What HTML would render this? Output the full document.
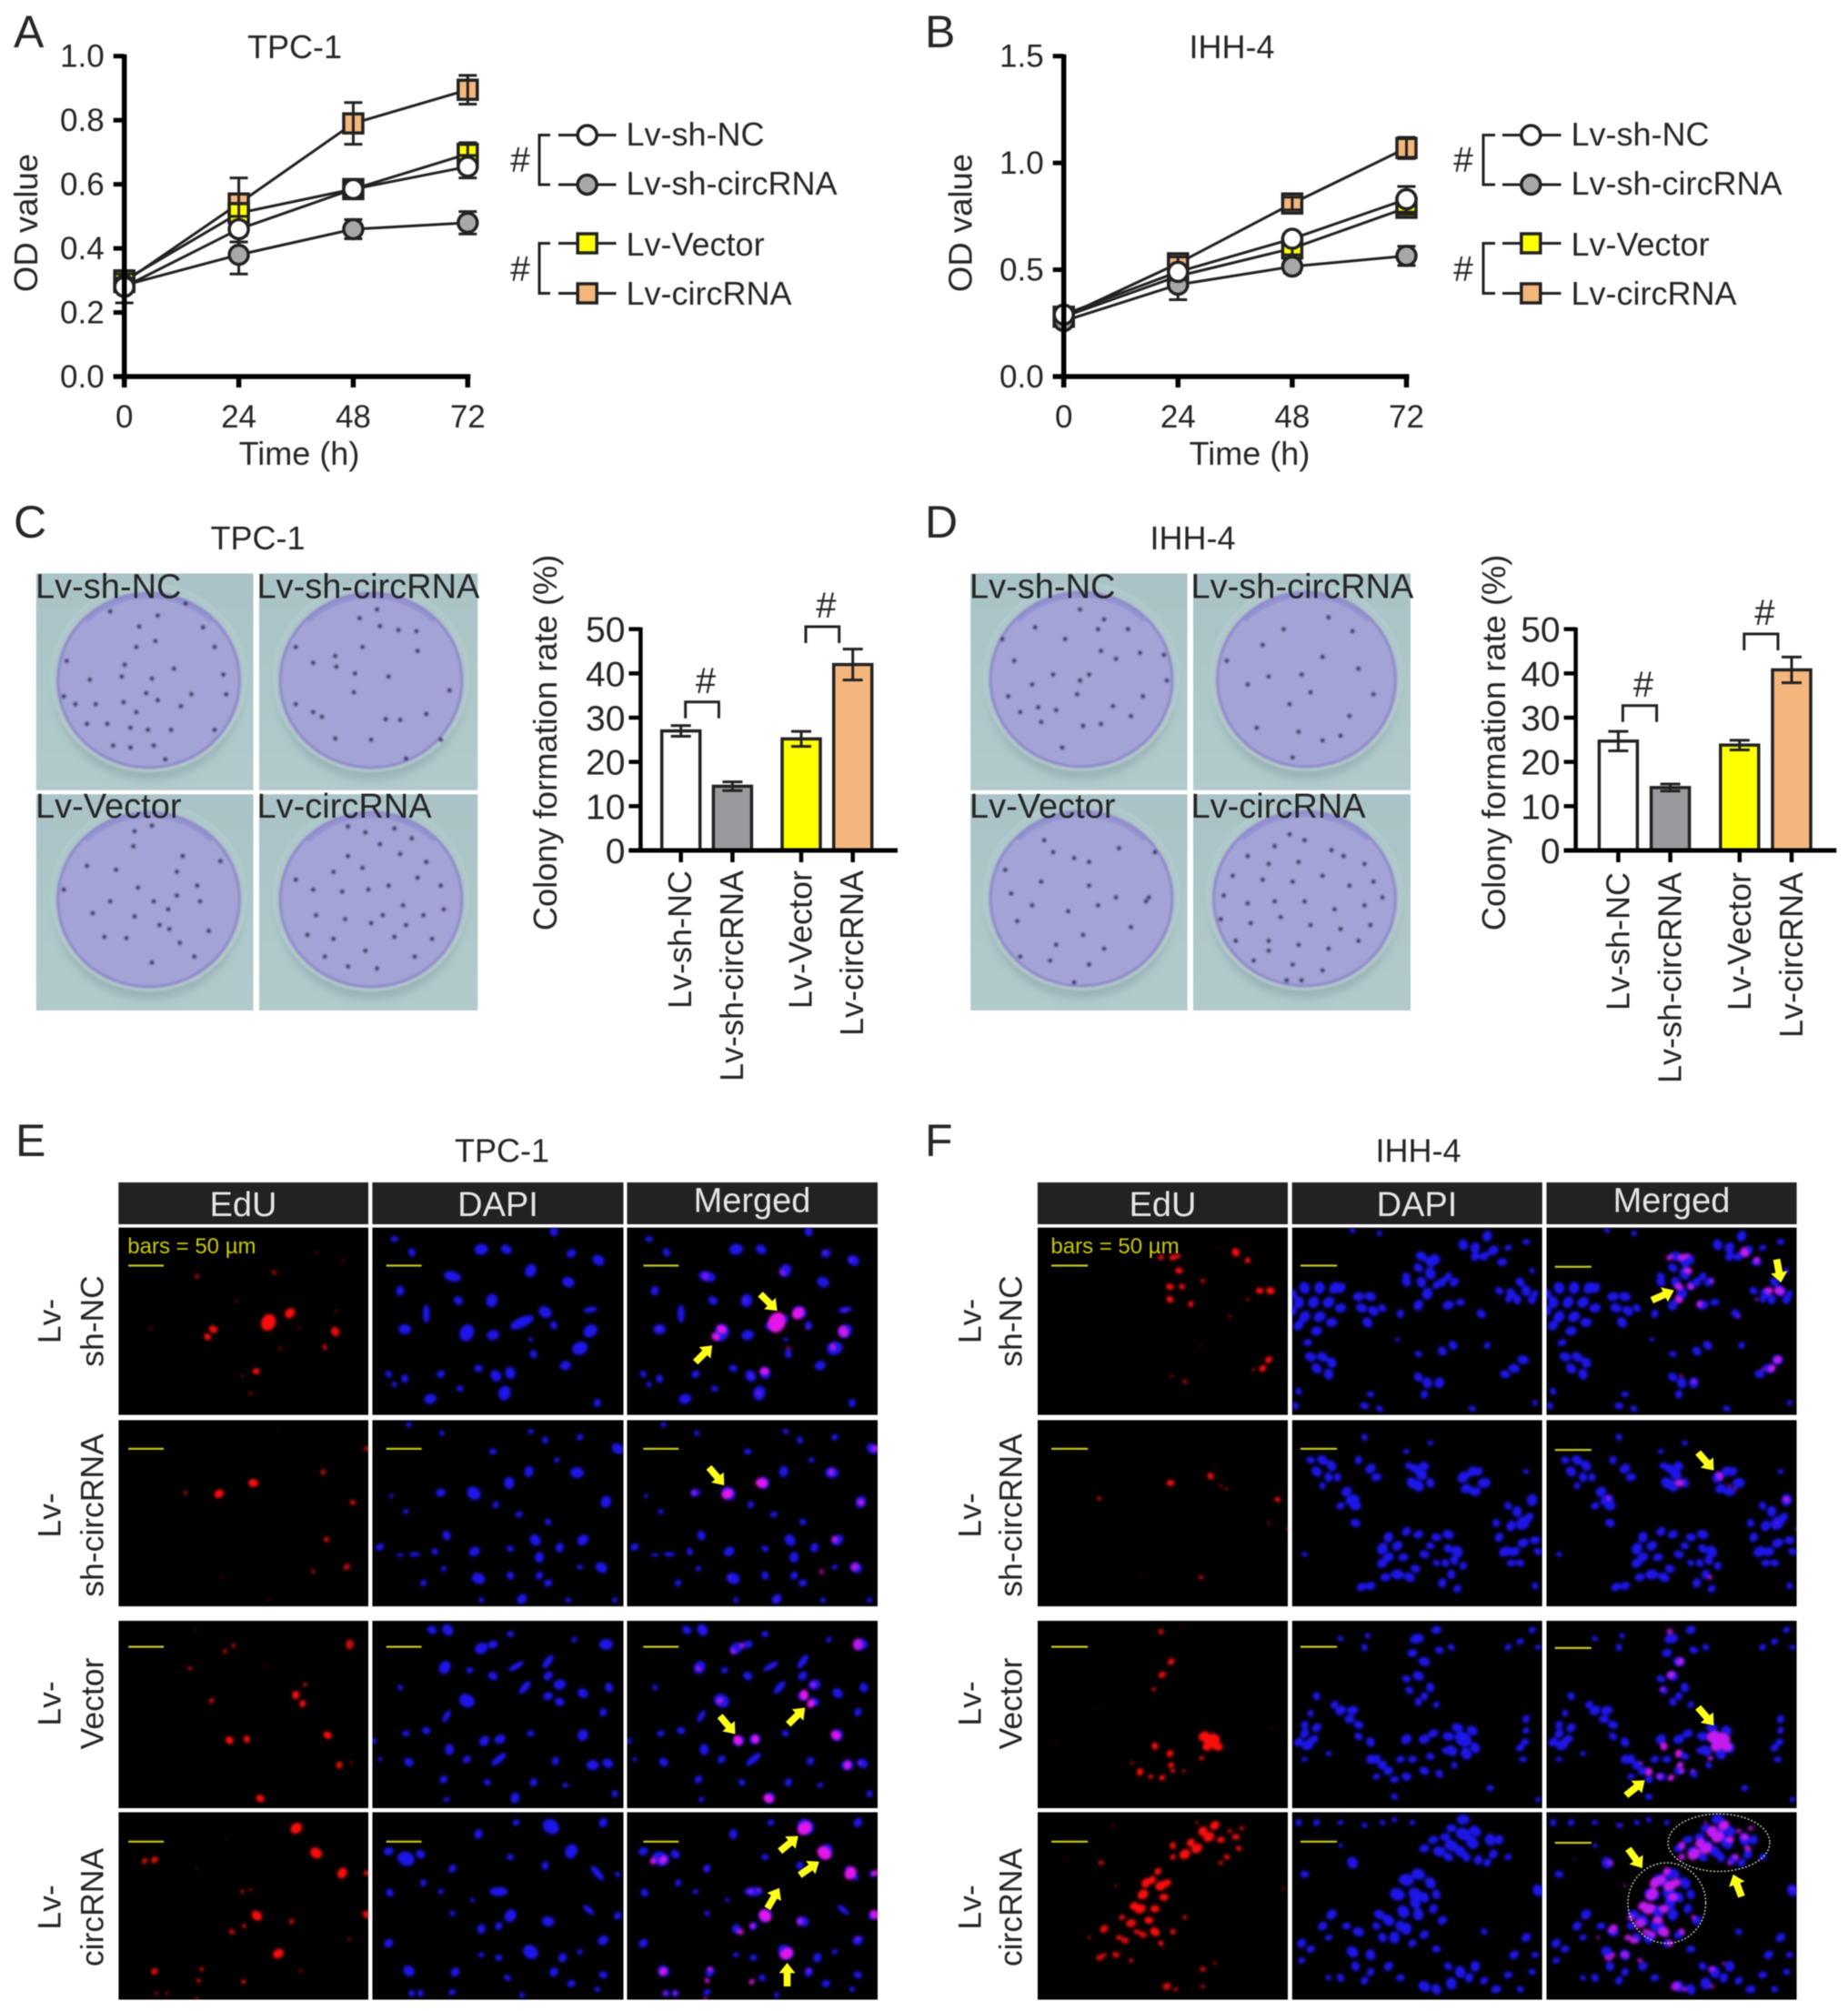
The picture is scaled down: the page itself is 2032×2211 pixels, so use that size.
<!DOCTYPE html>
<html lang="en">
<head>
<meta charset="utf-8">
<title>TPC-1 and IHH-4 proliferation figure</title>
<style>
html,body{margin:0;padding:0;background:#fff;}
svg#figure{display:block;filter:blur(0.6px);}
svg#figure text{font-family:"Liberation Sans",sans-serif;fill:#262626;}
.leg{font-size:36px;}
.tt{font-size:36px;}
.pl{font-size:50px;}
.ax{font-size:36px;}
.cb{font-size:38px;fill:#1d2a2c;}
.hd{font-size:38px;fill:#e6e6e6 !important;text-anchor:middle;}
.rl{font-size:35.5px;text-anchor:middle;}
.sb{font-size:24px;fill:#c9c900 !important;}
.ln{stroke:#222;stroke-width:3;fill:none;}
</style>
</head>
<body>
<svg id="figure" xmlns="http://www.w3.org/2000/svg" width="2032" height="2211" viewBox="0 0 2032 2211">
<defs>
<filter id="soft" x="-5%" y="-5%" width="110%" height="110%"><feGaussianBlur stdDeviation="2.6"/></filter>
<filter id="softer" x="-10%" y="-10%" width="120%" height="120%"><feGaussianBlur stdDeviation="1"/></filter>
<filter id="softest" x="-20%" y="-20%" width="140%" height="140%"><feGaussianBlur stdDeviation="4"/></filter>
<linearGradient id="plateBg" x1="0" y1="0" x2="0" y2="1"><stop offset="0" stop-color="#a9c3c6"/><stop offset="1" stop-color="#b2cacb"/></linearGradient>
</defs>
<rect width="2032" height="2211" fill="#fff"/>

<text class="pl" x="15" y="52">A</text>
<text class="pl" x="1017" y="52">B</text>
<text class="pl" x="15" y="591">C</text>
<text class="pl" x="1017" y="591">D</text>
<text class="pl" x="17" y="1271">E</text>
<text class="pl" x="1017" y="1271">F</text>

<text class="tt" x="324" y="64" text-anchor="middle">TPC-1</text>
<text class="tt" x="1354.500" y="64" text-anchor="middle">IHH-4</text>
<text class="tt" x="283.500" y="604" text-anchor="middle">TPC-1</text>
<text class="tt" x="1311.500" y="604" text-anchor="middle">IHH-4</text>
<text class="tt" x="552" y="1277.500" text-anchor="middle">TPC-1</text>
<text class="tt" x="1559.500" y="1277.500" text-anchor="middle">IHH-4</text>

<!-- Axis titles -->
<text class="ax" transform="translate(41 245) rotate(-90)" text-anchor="middle" style="font-size:36.5px">OD value</text>
<text class="ax" transform="translate(1068.500 245) rotate(-90)" text-anchor="middle" style="font-size:36.5px">OD value</text>
<text class="ax" x="329" y="511" text-anchor="middle">Time (h)</text>
<text class="ax" x="1374" y="511" text-anchor="middle">Time (h)</text>
<text class="ax" transform="translate(612 816.500) rotate(-90)" text-anchor="middle" style="font-size:36.3px">Colony formation rate (%)</text>
<text class="ax" transform="translate(1655 816.500) rotate(-90)" text-anchor="middle" style="font-size:36.3px">Colony formation rate (%)</text>

<!-- Legend A -->
<g>
<path class="ln" d="M605 148.500H593V203H605M605 267.500H593V322.500H605"/>
<text class="ax" x="572" y="189" text-anchor="middle" style="font-size:39px">#</text>
<text class="ax" x="572" y="309" text-anchor="middle" style="font-size:39px">#</text>
<path class="ln" d="M614 148.500H677.500M614 203H677.500M614 267.500H677.500M614 322.500H677.500"/>
<circle cx="645.700" cy="148.500" r="10.500" fill="#fff" stroke="#222" stroke-width="3.500"/>
<circle cx="645.700" cy="203" r="10.500" fill="#a8a8a8" stroke="#222" stroke-width="3.500"/>
<rect x="635.200" y="257" width="21" height="21" fill="#ffff00" stroke="#222" stroke-width="3.500"/>
<rect x="635.200" y="312" width="21" height="21" fill="#f4b67c" stroke="#222" stroke-width="3.500"/>
<text class="leg" x="688.500" y="160">Lv-sh-NC</text>
<text class="leg" x="688.500" y="214">Lv-sh-circRNA</text>
<text class="leg" x="688.500" y="281">Lv-Vector</text>
<text class="leg" x="688.500" y="335">Lv-circRNA</text>
</g>

<!-- Legend B -->
<g>
<path class="ln" d="M1644 148.500H1631V203H1644M1644 267.500H1631V322.500H1644"/>
<text class="ax" x="1609" y="189" text-anchor="middle" style="font-size:39px">#</text>
<text class="ax" x="1609" y="309" text-anchor="middle" style="font-size:39px">#</text>
<path class="ln" d="M1652 148.500H1716.500M1652 203H1716.500M1652 267.500H1716.500M1652 322.500H1716.500"/>
<circle cx="1683.300" cy="148.500" r="10.500" fill="#fff" stroke="#222" stroke-width="3.500"/>
<circle cx="1683.300" cy="203" r="10.500" fill="#a8a8a8" stroke="#222" stroke-width="3.500"/>
<rect x="1672.800" y="257" width="21" height="21" fill="#ffff00" stroke="#222" stroke-width="3.500"/>
<rect x="1672.800" y="312" width="21" height="21" fill="#f4b67c" stroke="#222" stroke-width="3.500"/>
<text class="leg" x="1727.500" y="160">Lv-sh-NC</text>
<text class="leg" x="1727.500" y="214">Lv-sh-circRNA</text>
<text class="leg" x="1727.500" y="281">Lv-Vector</text>
<text class="leg" x="1727.500" y="335">Lv-circRNA</text>
</g>

<g id="layer-charts"></g>
<g id="layer-plates"></g>

<!-- Colony plate labels -->
<text class="cb" x="39" y="657.500">Lv-sh-NC</text>
<text class="cb" x="282.500" y="657.500">Lv-sh-circRNA</text>
<text class="cb" x="39" y="899">Lv-Vector</text>
<text class="cb" x="282.500" y="899">Lv-circRNA</text>
<text class="cb" x="1066" y="657.500">Lv-sh-NC</text>
<text class="cb" x="1309.500" y="657.500">Lv-sh-circRNA</text>
<text class="cb" x="1066" y="899">Lv-Vector</text>
<text class="cb" x="1309.500" y="899">Lv-circRNA</text>

<!-- Headers -->
<g>
<rect x="130.300" y="1300" width="274.700" height="46" fill="#222"/>
<rect x="409.400" y="1300" width="276.100" height="46" fill="#222"/>
<rect x="689.500" y="1300" width="275.500" height="46" fill="#222"/>
<text class="hd" x="267.500" y="1337">EdU</text>
<text class="hd" x="547.500" y="1337">DAPI</text>
<text class="hd" x="827" y="1332.500">Merged</text>
</g>
<g>
<rect x="1140.900" y="1300" width="275.100" height="46" fill="#222"/>
<rect x="1420.700" y="1300" width="275.100" height="46" fill="#222"/>
<rect x="1700.500" y="1300" width="275.100" height="46" fill="#222"/>
<text class="hd" x="1278.500" y="1337">EdU</text>
<text class="hd" x="1558" y="1337">DAPI</text>
<text class="hd" x="1838" y="1332.500">Merged</text>
</g>

<g id="layer-micro"></g>

<text class="sb" x="140.300" y="1378">bars = 50 µm</text>
<text class="sb" x="1155.400" y="1378">bars = 50 µm</text>

<!-- Row labels E -->
<text class="rl" transform="translate(66.500 1452.500) rotate(-90)">Lv-</text>
<text class="rl" transform="translate(113.500 1452.500) rotate(-90)">sh-NC</text>
<text class="rl" transform="translate(66.500 1666) rotate(-90)">Lv-</text>
<text class="rl" transform="translate(113.500 1666) rotate(-90)">sh-circRNA</text>
<text class="rl" transform="translate(66.500 1873) rotate(-90)">Lv-</text>
<text class="rl" transform="translate(113.500 1873) rotate(-90)">Vector</text>
<text class="rl" transform="translate(66.500 2097) rotate(-90)">Lv-</text>
<text class="rl" transform="translate(113.500 2097) rotate(-90)">circRNA</text>
<!-- Row labels F -->
<text class="rl" transform="translate(1078.500 1452.500) rotate(-90)">Lv-</text>
<text class="rl" transform="translate(1123.500 1452.500) rotate(-90)">sh-NC</text>
<text class="rl" transform="translate(1078.500 1666) rotate(-90)">Lv-</text>
<text class="rl" transform="translate(1123.500 1666) rotate(-90)">sh-circRNA</text>
<text class="rl" transform="translate(1078.500 1873) rotate(-90)">Lv-</text>
<text class="rl" transform="translate(1123.500 1873) rotate(-90)">Vector</text>
<text class="rl" transform="translate(1078.500 2097) rotate(-90)">Lv-</text>
<text class="rl" transform="translate(1123.500 2097) rotate(-90)">circRNA</text>
</svg>

<script>
// ---------- Chart data ----------
const timePoints = [0, 24, 48, 72];
const timeTickLabels = ['0', '24', '48', '72'];
const odTicksA = [0, 0.2, 0.4, 0.6, 0.8, 1.0];
const odTickLabelsA = ['0.0', '0.2', '0.4', '0.6', '0.8', '1.0'];
const odTicksB = [0, 0.5, 1.0, 1.5];
const odTickLabelsB = ['0.0', '0.5', '1.0', '1.5'];

const aShNC = [0.28, 0.46, 0.585, 0.655];
const aShNCErr = [0.05, 0.04, 0.025, 0.035];
const aShCirc = [0.285, 0.38, 0.46, 0.48];
const aShCircErr = [0.02, 0.06, 0.03, 0.035];
const aVector = [0.30, 0.51, 0.585, 0.695];
const aVectorErr = [0.02, 0.03, 0.02, 0.035];
const aCirc = [0.295, 0.54, 0.79, 0.895];
const aCircErr = [0.02, 0.08, 0.065, 0.045];

const bShNC = [0.29, 0.49, 0.645, 0.83];
const bShNCErr = [0.03, 0.03, 0.02, 0.06];
const bShCirc = [0.26, 0.43, 0.515, 0.565];
const bShCircErr = [0.02, 0.07, 0.03, 0.045];
const bVector = [0.28, 0.47, 0.60, 0.79];
const bVectorErr = [0.02, 0.02, 0.03, 0.03];
const bCirc = [0.28, 0.53, 0.81, 1.07];
const bCircErr = [0.02, 0.03, 0.03, 0.05];

const barCategories = ['Lv-sh-NC', 'Lv-sh-circRNA', 'Lv-Vector', 'Lv-circRNA'];
const barFills = ['#ffffff', '#9a9a9e', '#ffff00', '#f4b67c'];
const rateTicks = [0, 10, 20, 30, 40, 50];
const rateTickLabels = ['0', '10', '20', '30', '40', '50'];
const cRates = [27, 14.5, 25.2, 42];
const cRateErr = [1.2, 1.0, 1.7, 3.5];
const dRates = [24.7, 14.2, 23.8, 40.8];
const dRateErr = [2.2, 0.8, 1.1, 2.9];

// ---------- Colony dots (measured in reference crop units) ----------
const dotsC1 = [[240,343],[320,285],[272,315],[190,305],[235,395],[268,380],[350,345],[370,395],[115,430],[215,440],[155,478],[210,470],[262,475],[300,450],[385,465],[390,515],[252,512],[330,515],[213,535],[272,530],[312,545],[370,605],[295,605],[255,605],[225,600],[185,590],[150,590],[110,520],[235,560],[225,650],[265,645],[195,645],[285,680],[130,540],[165,540]];
const dotsC2 = [[620,322],[655,342],[687,352],[718,355],[625,395],[720,405],[578,418],[510,395],[540,435],[612,462],[670,470],[775,505],[580,445],[555,572],[665,578],[690,580],[735,565],[578,627],[640,630],[700,678],[760,630],[650,300],[540,560],[610,510],[510,540]];
const dotsC3 = [[232,862],[262,848],[230,900],[305,965],[315,925],[380,938],[238,1005],[265,1040],[305,1025],[345,1040],[110,1010],[160,1070],[232,1078],[292,1110],[218,1133],[262,1195],[310,1145],[360,1115],[180,1130],[150,950],[200,960],[340,1000],[275,1100],[190,1040],[335,1180],[290,1060]];
const dotsC4 = [[600,850],[630,865],[680,855],[710,880],[655,895],[600,925],[575,965],[625,955],[690,920],[735,940],[540,1010],[590,1015],[635,1010],[670,1000],[720,980],[760,1000],[510,985],[545,1075],[595,1085],[640,1095],[695,1050],[730,1075],[765,1060],[530,1125],[575,1135],[630,1165],[680,1130],[715,1180],[745,1135],[600,1205],[650,1210],[560,1180],[700,1100],[660,1075]];
const dotsD1 = [[285,300],[325,325],[210,345],[155,375],[315,350],[365,350],[175,430],[260,375],[320,405],[385,410],[425,415],[285,480],[240,465],[205,490],[345,425],[300,465],[165,520],[215,548],[245,555],[340,545],[370,570],[290,595],[255,650],[220,585],[280,515],[430,480],[185,560],[320,590],[390,520]];
const dotsD2 = [[655,465],[775,515],[700,320],[625,350],[740,355],[530,430],[690,420],[600,470],[565,490],[635,540],[650,610],[690,632],[640,675],[580,600],[735,570],[670,510],[590,390],[750,450],[720,620]];
const dotsD3 = [[240,915],[275,930],[300,940],[225,885],[410,915],[350,905],[220,990],[300,1000],[400,1030],[395,1040],[345,1030],[205,1050],[265,1065],[315,1050],[180,1090],[290,1125],[325,1160],[245,1150],[160,960],[370,1105],[275,1245],[185,1180],[235,1190],[300,1200],[170,1020]];
const dotsD4 = [[635,870],[660,885],[610,900],[705,910],[725,925],[650,940],[600,945],[565,925],[760,945],[540,975],[590,985],[640,990],[690,975],[735,1000],[775,990],[525,1025],[565,1045],[610,1040],[660,1040],[710,1060],[760,1050],[520,1085],[570,1095],[620,1080],[670,1100],[720,1110],[770,1100],[545,1140],[600,1140],[650,1150],[700,1160],[750,1140],[575,1190],[640,1200],[690,1215],[630,1240],[655,1240],[600,1165],[790,1030]];

// ---------- Microscopy spots (reference crop units) ----------
const e1Blue = [[830,243,11],[873,243,9],[955,212,8],[680,225,6],[710,248,7],[780,290,15,9,15],[915,280,11],[985,250,8],[1032,262,10],[690,315,8],[790,332,8],[848,332,11],[735,355,6,16,0],[980,300,10],[1018,348,12,5,-10],[900,370,22,9,-25],[940,352,11],[955,375,7],[805,388,14],[850,392,10],[698,382,10],[1018,385,12],[1000,415,13],[920,425,7],[975,445,9],[880,458,10],[855,463,10],[825,450,7],[760,460,7],[670,460,6],[698,468,7],[793,485,6],[870,493,12],[742,503,10],[1030,510,7],[680,478,5],[915,400,4]];
const e1Red = [[463,370,14,1],[500,354,9,1],[368,382,7,1],[358,395,6,1],[578,386,8,.9],[560,413,5,.7],[442,455,6,1],[340,290,5,.5],[473,283,5,.5],[260,381,3,.4],[408,332,3,.4],[516,380,3,.4],[483,415,4,.4],[418,463,3,.5],[432,493,4,.4],[545,248,3,.4],[592,262,3,.4],[580,350,3,.4]];
const e2Blue = [[1065,590,10],[705,548,5],[762,563,5],[915,560,5],[940,575,6],[1000,570,6],[850,595,6],[960,610,5],[912,630,9],[995,632,11],[878,650,10],[817,668,12],[760,667,8],[1045,683,10],[675,673,4],[700,700,5],[855,688,6],[895,705,6],[945,718,6],[770,742,8],[923,750,10],[1005,750,10],[818,770,9],[965,763,8],[655,762,7],[715,775,10,4,0],[690,776,7,3,0],[750,770,6],[880,765,6],[930,780,9],[1037,798,10],[825,817,11],[880,812,7],[930,812,7],[945,825,7],[1000,797,5],[765,800,5],[900,853,9],[1060,855,5],[830,855,5],[730,825,6],[980,855,5]];
const e2Red = [[378,669,8,1],[437,650,8,1],[320,667,4,.6],[557,631,5,.7],[608,684,5,.8],[563,749,5,.8],[598,797,6,.7],[540,805,4,.6],[632,590,5,.7],[382,815,3,.3],[462,855,3,.3],[482,560,2,.3]];
const e3Blue = [[772,905,10],[745,905,8],[1045,930,11],[830,937,11],[850,930,8],[767,970,11],[880,912,6],[990,922,5],[810,975,6],[850,985,8],[890,968,15,5,-30],[945,960,14,6,-55],[945,985,8],[805,1028,13],[905,1005,14,6,-50],[965,1000,10],[945,1020,8],[965,1030,8],[1005,1015,9],[1050,1005,8],[1040,1048,7],[770,1055,12,5,-60],[735,1080,7],[700,1085,6],[835,1098,9],[862,1095,9],[1005,1088,10],[915,1085,6],[645,1098,5],[775,1113,9],[705,1135,8],[805,1130,7],[860,1130,16,6,-40],[958,1133,7],[1022,1140,10],[1048,1137,9],[765,1165,7],[840,1170,6],[920,1170,7],[888,1197,9],[975,1175,5],[1060,1190,6],[770,1200,5],[690,1005,5],[655,1130,4]];
const e3Red = [[603,930,8,.8],[388,942,4,.7],[403,932,4,.7],[328,972,4,.7],[336,905,2,.4],[457,967,2,.4],[510,1018,7,1],[522,1033,6,1],[526,1000,4,.7],[365,1028,5,.7],[396,1097,7,1],[426,1095,6,1],[565,1088,7,1],[585,1140,6,.9],[606,1136,3,.5],[449,1198,7,1]];
const e4Blue = [[950,1247,14],[985,1290,12],[825,1260,8],[890,1240,6],[1040,1240,8],[700,1303,14],[670,1290,8],[725,1295,8],[780,1320,7],[1030,1328,16,6,50],[940,1315,7],[880,1300,6],[672,1362,7],[730,1345,6],[860,1360,16,8,0],[1065,1330,5],[1015,1392,12,5,40],[880,1402,11],[760,1360,5],[945,1412,10],[1065,1402,7],[815,1375,4],[780,1398,5],[830,1425,8],[860,1420,7],[1040,1445,9],[915,1465,13],[670,1450,8],[970,1475,8],[1000,1465,5],[705,1498,10],[785,1500,8],[955,1500,8],[1040,1505,7],[830,1470,5],[860,1475,6],[875,1510,6],[710,1537,6],[725,1537,6],[780,1535,6],[985,1520,7],[900,1540,5],[1030,1530,5]];
const e4Red = [[511,1250,10,1],[545,1293,10,1],[590,1328,9,1],[250,1307,5,.9],[267,1305,6,.9],[632,1328,5,.9],[443,1402,9,1],[632,1400,7,.9],[400,1430,5,.8],[421,1420,4,.8],[503,1412,5,.7],[480,1468,9,1],[267,1499,6,.9],[348,1495,4,.8],[343,1515,4,.8],[420,1517,4,.9],[518,1498,3,.6],[602,1442,3,.6],[418,1360,4,.6],[432,1357,3,.6],[340,1320,2,.5],[270,1537,3,.7],[288,1537,3,.7],[340,1545,3,.6],[390,1268,2,.3]];
const f1Blue = [[660,310,10],[685,310,10],[710,310,10],[650,335,10],[675,335,10],[700,335,10],[720,345,9],[660,360,10],[685,360,10],[705,370,9],[650,375,9],[680,385,9],[750,325,9],[770,325,9],[755,345,9],[775,350,9],[765,370,9],[790,345,7],[820,355,7],[830,290,7],[855,255,9],[878,260,9],[870,285,10],[855,300,9],[865,320,10],[850,340,9],[880,305,7],[900,340,9],[920,335,7],[910,300,8],[955,355,8],[925,235,9],[945,240,9],[965,220,9],[975,245,9],[990,265,8],[1000,240,6],[1030,230,6],[985,315,7],[1005,320,9],[1030,315,9],[1000,330,6],[740,210,5],[785,215,5],[890,420,8],[908,410,8],[965,410,6],[850,425,6],[670,430,9],[690,430,9],[705,440,9],[680,450,9],[700,460,9],[850,465,8],[865,475,9],[885,475,9],[860,495,7],[1025,435,9],[1010,450,9],[995,460,8],[770,495,6],[760,515,7],[785,520,6],[650,490,6],[645,515,6],[940,520,6],[1040,280,5],[1045,510,5],[1045,320,6],[815,400,4],[720,310,9],[640,350,8],[640,320,8],[870,265,9],[890,300,8],[900,290,7],[945,255,8],[960,255,8],[1020,300,8],[1015,330,8],[1040,330,8],[665,405,7],[830,300,8],[850,275,8]];
const f1Red = [[440,257,6,.9],[420,257,5,.9],[450,280,6,1],[448,255,5,.8],[545,248,7,1],[565,262,5,1],[435,308,6,1],[455,308,5,1],[490,298,4,.8],[435,330,6,1],[470,338,5,1],[585,315,6,1],[603,315,7,1],[565,330,3,.7],[535,360,3,.6],[600,435,6,1],[590,450,6,1],[575,452,3,.7],[438,463,3,.6],[460,473,4,.7],[485,410,2,.4],[515,240,2,.4]];
const f2Blue = [[690,610,9],[680,630,9],[705,620,9],[715,640,7],[690,655,6],[750,610,7],[770,625,9],[780,640,8],[760,570,6],[740,680,11],[730,665,9],[745,690,9],[720,690,7],[745,720,8],[835,620,7],[855,635,10],[840,650,10],[850,655,10],[830,595,5],[870,580,5],[925,640,10],[940,630,9],[930,660,9],[960,650,10],[945,665,9],[1030,630,5],[1040,680,10],[1025,720,12],[1005,725,9],[995,770,10],[1010,770,9],[980,720,7],[800,745,9],[790,765,10],[815,760,9],[830,735,8],[825,780,8],[845,800,8],[815,810,10],[835,815,9],[860,775,8],[880,745,8],[900,740,9],[915,770,10],[925,795,7],[905,810,8],[880,790,6],[915,835,7],[770,830,8],[755,832,8],[660,775,5],[1045,830,6],[1050,770,7],[1020,790,7],[700,640,8],[670,610,7],[790,790,9],[800,780,9],[795,815,8],[850,740,8],[870,760,7],[900,765,8],[895,790,7],[890,825,8],[910,785,8],[1000,690,7],[1015,700,9],[1035,710,8],[1045,750,8],[1025,755,9],[985,745,8],[1005,790,7],[860,620,8],[845,625,9],[870,650,8],[950,630,8]];
const f2Red = [[436,650,6,1],[503,638,6,.9],[520,655,3,.6],[530,660,3,.6],[317,677,4,.7],[615,679,5,.9],[600,720,3,.5],[632,730,3,.6],[487,815,4,.8],[385,813,2,.4],[512,625,2,.4]];
const f3Blue = [[925,1095,14],[850,920,9],[880,905,8],[840,945,8],[860,960,9],[850,985,9],[830,990,7],[870,1005,8],[720,1045,9],[740,1045,9],[750,1070,8],[660,1070,7],[680,1075,8],[665,1105,10],[650,1100,8],[680,1020,7],[770,1100,8],[780,1130,8],[800,1150,8],[830,1160,8],[860,1150,8],[885,1155,7],[830,1095,9],[860,1095,9],[895,1115,6],[910,1140,6],[1030,1080,6],[1020,1110,7],[1028,1100,7],[765,915,5],[720,920,5],[760,935,6],[1000,935,6],[1020,925,6],[1040,905,6],[885,940,7],[905,935,6],[1050,935,5],[810,1195,6],[1050,1200,5],[700,1120,5],[660,1130,5],[970,1180,6],[770,1130,8],[750,1090,7],[735,1060,8],[710,1035,7],[820,1130,7],[790,1140,8],[840,1130,7],[870,1125,7],[875,1085,8],[900,1090,9],[945,1110,9],[940,1080,9],[915,1075,9],[905,1115,10],[930,1120,10],[835,1010,7],[850,1030,7],[860,1020,7],[880,1035,6],[845,920,9],[1030,1060,7],[1025,1130,6],[660,1085,8],[675,1095,8],[670,1050,6],[780,1160,6],[810,1165,7]];
const f3Red = [[505,1097,13,1],[492,1090,9,1],[515,1108,8,1],[498,1108,8,1],[420,908,5,.8],[437,960,6,.9],[422,983,6,.9],[408,1008,4,.7],[410,1107,6,1],[435,1120,6,1],[437,1140,5,1],[488,1128,4,.9],[372,1137,3,.7],[385,1152,6,1],[403,1160,4,1],[422,1162,5,1],[440,1150,4,.9],[458,1150,3,.8],[455,900,2,.4],[312,1042,2,.4],[245,1100,2,.4],[605,1075,2,.4]];
const f4Blue = [[830,1340,12],[850,1330,11],[815,1365,12],[845,1365,12],[870,1345,10],[800,1410,10],[825,1395,11],[850,1400,10],[875,1390,8],[830,1425,10],[810,1440,10],[860,1435,8],[890,1410,8],[925,1260,12],[905,1280,11],[940,1275,11],[925,1235,10],[885,1290,10],[860,1285,8],[970,1270,10],[975,1295,8],[950,1305,8],[740,1310,10],[660,1330,7],[705,1400,9],[690,1420,8],[655,1450,8],[750,1430,9],[740,1465,10],[770,1470,9],[745,1490,8],[780,1420,7],[800,1490,8],[920,1500,10],[905,1520,10],[945,1490,9],[935,1510,8],[860,1525,10],[880,1530,9],[1030,1440,8],[1010,1470,8],[1040,1500,6],[980,1530,8],[960,1430,6],[1050,1358,10],[650,1240,6],[680,1240,6],[720,1240,5],[760,1245,5],[790,1240,5],[1045,1470,6],[700,1510,5],[790,1440,8],[785,1400,9],[820,1420,9],[845,1380,10],[860,1370,9],[880,1365,8],[900,1300,8],[920,1290,10],[930,1300,8],[945,1255,10],[905,1250,8],[895,1265,8],[875,1270,8],[985,1270,8],[965,1310,7],[1000,1300,6],[840,1450,7],[880,1460,7],[770,1500,7],[720,1510,7],[760,1515,7],[820,1510,7],[900,1490,7],[960,1515,7],[1000,1505,7],[1020,1530,6],[670,1460,7],[655,1480,6],[700,1440,6],[730,1420,7],[720,1280,4],[810,1235,5],[840,1240,5]];
const f4Red = [[500,1265,9,1],[480,1285,9,1],[460,1295,9,1],[510,1245,8,1],[520,1270,6,1],[440,1280,6,.9],[545,1265,6,.9],[550,1285,5,.9],[530,1300,5,.9],[420,1350,9,1],[390,1365,9,1],[405,1340,7,1],[385,1390,9,1],[430,1345,7,1],[410,1390,7,1],[370,1415,8,.9],[325,1425,7,.9],[410,1430,8,1],[440,1430,5,.9],[390,1435,6,.9],[360,1445,6,.9],[460,1405,4,.8],[345,1470,6,.8],[318,1475,6,.8],[370,1480,4,.8],[490,1495,5,.8],[510,1485,3,.7],[430,1525,7,.8],[445,1530,4,.7],[260,1305,2,.4],[320,1310,5,.7],[625,1355,3,.5],[340,1245,3,.4],[480,1240,3,.6],[470,1275,7,1],[490,1255,8,1],[395,1345,8,1],[375,1385,7,1],[400,1410,7,1],[425,1370,7,1],[415,1325,6,1],[355,1405,5,.9],[380,1430,5,.9],[350,1440,5,.9],[325,1470,4,.8],[300,1440,3,.6],[555,1250,4,.8],[535,1255,4,.8],[440,1300,5,.9],[520,1310,4,.8],[345,1350,3,.5],[490,1525,4,.6],[420,1450,5,.9]];

// ---------- Helpers ----------
const NS = 'http://www.w3.org/2000/svg';
function mk(tag, attrs, parent) {
  const n = document.createElementNS(NS, tag);
  for (const k in attrs) n.setAttribute(k, attrs[k]);
  parent.appendChild(n);
  return n;
}
const layerCharts = document.getElementById('layer-charts');
const layerPlates = document.getElementById('layer-plates');
const layerMicro = document.getElementById('layer-micro');

// ---------- Line charts ----------
function drawLineChart(id, cfg) {
  const root = mk('g', {}, layerCharts);
  
  
  const xScale = t => cfg.x0 + (t / 72) * (cfg.x1 - cfg.x0);
  const yScale = v => cfg.y0 - (v / cfg.yMax) * (cfg.y0 - cfg.y1);

  cfg.series.forEach(s => {
    const g = mk('g', {}, root);
    
    
    const pts = timePoints.map((t, i) => xScale(t) + ',' + yScale(s.v[i])).join(' ');
    const line = mk('polyline', {points: pts, fill: 'none', stroke: '#222', 'stroke-width': 3}, g);
    
    
    const drawErr = i => {
      const x = xScale(timePoints[i]);
      const top = yScale(s.v[i] + s.e[i]);
      const bot = yScale(s.v[i] - s.e[i]);
      const err = mk('path', {d: `M${x - 10} ${top}H${x + 10}M${x} ${top}V${bot}M${x - 10} ${bot}H${x + 10}`, fill: 'none', stroke: '#222', 'stroke-width': 3}, g);
      
      
    };
    timePoints.forEach((t, i) => {
      const x = xScale(t), y = yScale(s.v[i]);
      if (s.shape === 'square') {
        const m = mk('rect', {x: x - 10.5, y: y - 10.5, width: 21, height: 21, fill: s.fill, stroke: '#222', 'stroke-width': 3.5}, g);
        
        
        drawErr(i);
      } else {
        drawErr(i);
        const m = mk('circle', {cx: x, cy: y, r: 10.5, fill: s.fill, stroke: '#222', 'stroke-width': 3.5}, g);
        
        
      }
    });
  });

  const yAxis = mk('line', {x1: cfg.x0, x2: cfg.x0, y1: cfg.y1 - 2, y2: cfg.y0 + 12, stroke: '#000', 'stroke-width': 5.5}, root);
  
  
  const xAxis = mk('line', {x1: cfg.x0 - 12, x2: cfg.x1 + 3, y1: cfg.y0, y2: cfg.y0, stroke: '#000', 'stroke-width': 5.5}, root);
  
  

  cfg.ticks.forEach((v, i) => {
    const y = yScale(v);
    const tk = mk('line', {x1: cfg.x0 - 12, x2: cfg.x0, y1: y, y2: y, stroke: '#000', 'stroke-width': 5}, root);
    
    
    const lb = mk('text', {x: cfg.x0 - 22, y: y + 12, 'text-anchor': 'end', 'font-size': 35}, root);
    lb.textContent = cfg.tickLabels[i];
    
    
  });
  timePoints.forEach((t, i) => {
    const x = xScale(t);
    const tk = mk('line', {x1: x, x2: x, y1: cfg.y0, y2: cfg.y0 + 12, stroke: '#000', 'stroke-width': 5.5}, root);
    
    
    const lb = mk('text', {x: x, y: 470, 'text-anchor': 'middle', 'font-size': 35}, root);
    lb.textContent = timeTickLabels[i];
    
    
  });
}

drawLineChart('a', {
  x0: 136.7, x1: 514.3, y0: 414, y1: 61.7, yMax: 1.0, ticks: odTicksA, tickLabels: odTickLabelsA,
  series: [
    {key: 'lv-circrna', v: aCirc, e: aCircErr, shape: 'square', fill: '#f4b67c'},
    {key: 'lv-vector', v: aVector, e: aVectorErr, shape: 'square', fill: '#ffff00'},
    {key: 'lv-sh-circrna', v: aShCirc, e: aShCircErr, shape: 'circle', fill: '#a8a8a8'},
    {key: 'lv-sh-nc', v: aShNC, e: aShNCErr, shape: 'circle', fill: '#ffffff'}
  ]
});
drawLineChart('b', {
  x0: 1169.7, x1: 1546.5, y0: 414, y1: 61.7, yMax: 1.5, ticks: odTicksB, tickLabels: odTickLabelsB,
  series: [
    {key: 'lv-circrna', v: bCirc, e: bCircErr, shape: 'square', fill: '#f4b67c'},
    {key: 'lv-vector', v: bVector, e: bVectorErr, shape: 'square', fill: '#ffff00'},
    {key: 'lv-sh-circrna', v: bShCirc, e: bShCircErr, shape: 'circle', fill: '#a8a8a8'},
    {key: 'lv-sh-nc', v: bShNC, e: bShNCErr, shape: 'circle', fill: '#ffffff'}
  ]
});

// ---------- Bar charts ----------
function drawBarChart(id, cfg) {
  const root = mk('g', {}, layerCharts);
  
  
  const xBand = i => cfg.xFirst + i * cfg.step + (i >= 2 ? cfg.gap : 0);
  const yScale = v => cfg.y0 - (v / 50) * (cfg.y0 - cfg.y50);

  cfg.values.forEach((v, i) => {
    const cx = xBand(i);
    const bar = mk('rect', {x: cx - 21, y: yScale(v), width: 42, height: cfg.y0 - yScale(v), fill: barFills[i], stroke: '#222', 'stroke-width': 3.5}, root);
    
    
    const top = yScale(v + cfg.errs[i]);
    const bot = yScale(v - cfg.errs[i]);
    const err = mk('path', {d: `M${cx - 11} ${top}H${cx + 11}M${cx} ${top}V${bot}M${cx - 11} ${bot}H${cx + 11}`, fill: 'none', stroke: '#222', 'stroke-width': 3}, root);
    
    
    const tk = mk('line', {x1: cx, x2: cx, y1: cfg.y0, y2: cfg.y0 + 13, stroke: '#000', 'stroke-width': 4.5}, root);
    
    
    const lb = mk('text', {transform: `translate(${cx + cfg.labelDx} ${cfg.labelTop}) rotate(-90)`, 'text-anchor': 'end', 'font-size': 36}, root);
    lb.textContent = barCategories[i];
    
    
  });

  const yAxis = mk('line', {x1: cfg.xAxis, x2: cfg.xAxis, y1: cfg.y50 - 2, y2: cfg.y0, stroke: '#000', 'stroke-width': 4.5}, root);
  
  
  const xAxis = mk('line', {x1: cfg.xAxis - 13, x2: cfg.xEnd, y1: cfg.y0, y2: cfg.y0, stroke: '#000', 'stroke-width': 5}, root);
  
  

  rateTicks.forEach((v, i) => {
    const y = yScale(v);
    const tk = mk('line', {x1: cfg.xAxis - 13, x2: cfg.xAxis, y1: y, y2: y, stroke: '#000', 'stroke-width': 4.5}, root);
    
    
    const lb = mk('text', {x: cfg.xAxis - 17, y: y + 14, 'text-anchor': 'end', 'font-size': 39}, root);
    lb.textContent = rateTickLabels[i];
    
    
  });

  // Significance brackets join neighbouring bar pairs
  [[0, 1], [2, 3]].forEach((pair, k) => {
    const br = cfg.brackets[k];
    const left = xBand(pair[0]) + 5;
    const right = xBand(pair[1]) - 15;
    const p = mk('path', {d: `M${left} ${br + 18}V${br}H${right}V${br + 18}`, fill: 'none', stroke: '#222', 'stroke-width': 3}, root);
    
    
    const h = mk('text', {x: (left + right) / 2 + 4, y: br - 10, 'text-anchor': 'middle', 'font-size': 40}, root);
    h.textContent = '#';
    
    
  });
}

drawBarChart('c', {xFirst: 748.7, step: 56.7, gap: 18.9, y0: 935, y50: 691.7, xAxis: 704.4, xEnd: 987, labelDx: 11.5, labelTop: 957, values: cRates, errs: cRateErr, brackets: [771.8, 689]});
drawBarChart('d', {xFirst: 1779.4, step: 57.2, gap: 19, y0: 935, y50: 691.7, xAxis: 1732.6, xEnd: 2019.3, labelDx: 12, labelTop: 959, values: dRates, errs: dRateErr, brackets: [775.8, 697]});

// ---------- Colony plates ----------
function drawPlate(name, x, y, w, h, cx, cy, rx, ry, dots, toX, toY) {
  const g = mk('g', {}, layerPlates);
  
  
  const bg = mk('rect', {x: x, y: y, width: w, height: h, fill: 'url(#plateBg)'}, g);
  
  
  const clipSvg = mk('svg', {x: x, y: y, width: w, height: h, viewBox: `${x} ${y} ${w} ${h}`}, g);
  
  
  const shadow = mk('ellipse', {cx: cx, cy: cy + 11, rx: rx + 3, ry: ry + 3, fill: '#93adb2', opacity: .75, filter: 'url(#softest)'}, clipSvg);
  
  
  const inner = mk('g', {filter: 'url(#softer)'}, clipSvg);
  
  
  const rim = mk('ellipse', {cx: cx, cy: cy - 3, rx: rx + 7, ry: ry + 7, fill: '#aec7ca', stroke: '#bcd0d2', 'stroke-width': 1}, inner);
  
  
  const dish = mk('ellipse', {cx: cx, cy: cy, rx: rx, ry: ry, fill: '#a3a4d5', stroke: '#9083ca', 'stroke-width': 3}, inner);
  
  
  const top = mk('path', {d: `M${cx - rx * .7} ${cy - ry * .68}A${rx} ${ry} 0 0 1 ${cx + rx * .7} ${cy - ry * .68}`, fill: 'none', stroke: '#8b8ccd', 'stroke-width': 6, opacity: .7}, inner);
  
  
  dots.forEach(d => {
    const c = mk('circle', {cx: toX(d[0]), cy: toY(d[1]), r: 2.6, fill: '#3b3266'}, inner);
    
    
  });
}
const cToX = v => v / 1.568;
const dToX = v => 1000 + v / 1.519;
const plToY = v => 540 + v / 2.306;
drawPlate('c-lv-sh-nc', 39.8, 630.5, 238.8, 238.3, 163.5, 748, 100, 96, dotsC1, cToX, plToY);
drawPlate('c-lv-sh-circrna', 285, 630.5, 240.3, 238.3, 408, 748, 100, 96, dotsC2, cToX, plToY);
drawPlate('c-lv-vector', 39.8, 873.3, 238.8, 237.7, 163.5, 989, 100, 96, dotsC3, cToX, plToY);
drawPlate('c-lv-circrna', 285, 873.3, 240.3, 237.7, 408, 989, 100, 96, dotsC4, cToX, plToY);
drawPlate('d-lv-sh-nc', 1067.2, 630.5, 238.4, 238.3, 1189, 747, 100, 96, dotsD1, dToX, plToY);
drawPlate('d-lv-sh-circrna', 1312, 630.5, 239, 238.3, 1436.5, 747, 98, 96, dotsD2, dToX, plToY);
drawPlate('d-lv-vector', 1067.2, 873.3, 238.4, 237.7, 1189, 988, 100, 96, dotsD3, dToX, plToY);
drawPlate('d-lv-circrna', 1312, 873.3, 239, 237.7, 1434.5, 988, 100, 96, dotsD4, dToX, plToY);

// ---------- Microscopy panels ----------
function drawSpots(parent, spots, fill, kind, grow) {
  spots.forEach(s => {
    const elongated = s.length === 5;
    const rx = (elongated ? s[2] : s[2] * 1.08) * grow;
    const ry = (elongated ? s[3] : s[2] * 0.88) * grow;
    const ang = elongated ? s[4] : (s[0] + s[1]) % 180;
    const attrs = {cx: s[0], cy: s[1], rx: rx, ry: ry, fill: fill, transform: `rotate(${ang} ${s[0]} ${s[1]})`};
    if (s.length === 4) attrs.opacity = s[3];
    const e = mk('ellipse', attrs, parent);
    
    
  });
}
function drawArrow(parent, ax, ay, ang) {
  const a = mk('polygon', {points: '-20,-6 3,-6 3,-14 21,0 3,14 3,6 -20,6', fill: '#ffff1a', transform: `translate(${ax} ${ay}) rotate(${ang})`}, parent);
  
  
}
function drawCell(name, px, py, pw, ph, ox, oy, vw, opts) {
  const s = mk('svg', {x: px, y: py, width: pw, height: ph, viewBox: `${ox} ${oy} ${vw} 326`, preserveAspectRatio: 'none'}, layerMicro);
  
  
  const bg = mk('rect', {x: ox, y: oy, width: vw, height: 326, fill: '#000'}, s);
  
  
  if (opts.blue) {
    const g = mk('g', {filter: 'url(#soft)', transform: `translate(${opts.blueDx} 0)`}, s);
    
    
    drawSpots(g, opts.blue, '#1a12e8', 'nucleus', 1);
  }
  if (opts.red) {
    const g = mk('g', {filter: 'url(#soft)', transform: `translate(${opts.redDx} 0)`}, s);
    
    
    drawSpots(g, opts.red, opts.redFill, 'edu-spot', opts.redGrow);
  }
  const bar = mk('rect', {x: opts.barX, y: opts.barY - 1.5, width: 61, height: 3.5, fill: '#c8c81e'}, s);
  
  
  (opts.arrows || []).forEach(a => drawArrow(s, a[0], a[1], a[2]));
  (opts.rings || []).forEach(r => {
    const e = mk('ellipse', {cx: r[0], cy: r[1], rx: r[2], ry: r[3], fill: 'none', stroke: '#e8e8d8', 'stroke-width': 2, 'stroke-dasharray': '3 3'}, s);
    
    
  });
}

const rowPx = [[1349.6, 206.1], [1561.3, 204.9], [1782, 206], [1992.4, 206.1]];
const rowOrigin = [205, 540, 889, 1222];
const barY = [271, 590, 934, 1273];

const eRows = [[e1Blue, e1Red], [e2Blue, e2Red], [e3Blue, e3Red], [e4Blue, e4Red]];
const fRows = [[f1Blue, f1Red], [f2Blue, f2Red], [f3Blue, f3Red], [f4Blue, f4Red]];
const eArrows = [
  [[1325, 335, 45], [1213, 425, -45]],
  [[1235, 638, 50]],
  [[1254, 1070, 50], [1373, 1055, -45]],
  [[1360, 1277, -40], [1395, 1320, -35], [1333, 1372, -60], [1357, 1505, -90]]
];
const fArrows = [
  [[1258, 323, -25], [1452, 280, 80]],
  [[1330, 612, 50]],
  [[1330, 1055, 50], [1212, 1180, -40]],
  [[1212, 1302, 55], [1383, 1350, -110]]
];
const fRings = [[], [], [], [[1265, 1380, 65, 70], [1352, 1275, 85, 50]]];

eRows.forEach((row, r) => {
  const [py, ph] = rowPx[r];
  const oy = rowOrigin[r];
  drawCell('e-edu-' + r, 130.3, py, 274.7, ph, 205, oy, 430, {red: row[1], redDx: 0, redFill: '#ff1010', redGrow: 1, barX: 222, barY: barY[r]});
  drawCell('e-dapi-' + r, 409.4, py, 276.1, ph, 642, oy, 433, {blue: row[0], blueDx: 0, barX: 666, barY: barY[r]});
  drawCell('e-merged-' + r, 689.5, py, 275.5, ph, 1081, oy, 432, {blue: row[0], blueDx: 439, red: row[1], redDx: 876, redFill: '#e618ea', redGrow: 1.2, barX: 1109, barY: barY[r], arrows: eArrows[r]});
});
fRows.forEach((row, r) => {
  const [py, ph] = rowPx[r];
  const oy = rowOrigin[r];
  drawCell('f-edu-' + r, 1140.9, py, 275.1, ph, 214, oy, 418, {red: row[1], redDx: 0, redFill: '#ff1010', redGrow: 1, barX: 237, barY: barY[r]});
  drawCell('f-dapi-' + r, 1420.7, py, 275.1, ph, 639, oy, 418, {blue: row[0], blueDx: 0, barX: 653, barY: barY[r]});
  drawCell('f-merged-' + r, 1700.5, py, 275.1, ph, 1064, oy, 418, {blue: row[0], blueDx: 425, red: row[1], redDx: 850, redFill: '#c41cee', redGrow: 1.15, barX: 1078, barY: barY[r] + 2, arrows: fArrows[r], rings: fRings[r]});
});
</script>
</body>
</html>
